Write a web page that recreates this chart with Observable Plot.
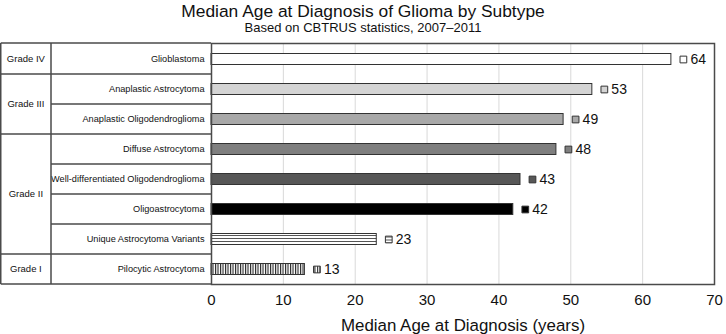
<!DOCTYPE html>
<html><head><meta charset="utf-8">
<script src="https://cdn.jsdelivr.net/npm/d3@7"></script>
<script src="https://cdn.jsdelivr.net/npm/@observablehq/plot@0.6"></script>
<style>
body{margin:0;background:#fff;font-family:"Liberation Sans",Arial,sans-serif;}
#wrap{position:relative;width:726px;height:334px;overflow:hidden;}
#title{position:absolute;top:1px;left:0;width:726px;text-align:center;font-size:17.4px;line-height:20px;color:#111}
#subtitle{position:absolute;top:20px;left:0;width:726px;text-align:center;font-size:13px;line-height:16px;color:#111}
#chart{position:absolute;top:40px;left:0}
</style></head><body>
<div id="wrap"><div id="title">Median Age at Diagnosis of Glioma by Subtype</div><div id="subtitle">Based on CBTRUS statistics, 2007–2011</div><div id="chart"></div></div>
<script>
const subtypes = ["Glioblastoma", "Anaplastic Astrocytoma", "Anaplastic Oligodendroglioma", "Diffuse Astrocytoma", "Well-differentiated Oligodendroglioma", "Oligoastrocytoma", "Unique Astrocytoma Variants", "Pilocytic Astrocytoma"];
const ages = [64, 53, 49, 48, 43, 42, 23, 13];
const grades = ["Grade IV", "Grade III", "Grade III", "Grade II", "Grade II", "Grade II", "Grade II", "Grade I"];
const fills = ["#ffffff", "#d4d4d4", "#a8a8a8", "#7f7f7f", "#575757", "#000000", "url(#hstripe)", "url(#vstripe)"];
const xTicks = [0, 10, 20, 30, 40, 50, 60, 70];
const gridTicks = [10, 20, 30, 40, 50, 60];
const xLabel = "Median Age at Diagnosis (years)";

(function () {
const data = subtypes.map((s, i) => ({subtype: s, age: ages[i], grade: grades[i], fill: fills[i]}));

const font = '"Liberation Sans", Arial, sans-serif';
const plot = Plot.plot({
  width: 726, height: 294,
  marginLeft: 211, marginRight: 12, marginTop: 3, marginBottom: 50,
  style: {fontFamily: font, fontSize: "10px", color: "#222", background: "white", overflow: "visible"},
  x: {domain: [0, 70]},
  y: {domain: subtypes, padding: 0},
  color: {type: "identity"},
  marks: [
    Plot.ruleX(gridTicks, {stroke: "#d9d9d9", strokeWidth: 1}),
    Plot.barX(data, {x: "age", y: "subtype", fill: "fill", stroke: "#333", strokeWidth: 1, insetTop: 9.5, insetBottom: 9.5}),
    Plot.dot(data, {x: "age", y: "subtype", symbol: "square", r: 3.8, fill: "fill", stroke: "#333", strokeWidth: 1, dx: 12}),
    Plot.text(data, {x: "age", y: "subtype", text: d => String(d.age), dx: 19, textAnchor: "start", fontSize: 14, fill: "#111"}),
    Plot.axisY({tickSize: 0, tickPadding: 7, fontSize: 9.2, label: null, fill: "#111"}),
    Plot.axisX({ticks: xTicks, tickSize: 0, tickPadding: 10, fontSize: 15, fill: "#111", label: null}),
    Plot.text([xLabel], {frameAnchor: "bottom", dy: 41, lineAnchor: "middle", fontSize: 16.9, fill: "#111"}),
    Plot.frame({stroke: "#4a4a4a", strokeWidth: 1.5})
  ]
});
document.getElementById("chart").appendChild(plot);

const svg = d3.select(plot);
const defs = svg.insert("defs", ":first-child");
const hp = defs.append("pattern").attr("id", "hstripe").attr("patternUnits", "userSpaceOnUse").attr("width", 8).attr("height", 3);
hp.append("rect").attr("width", 8).attr("height", 3).attr("fill", "#fff");
hp.append("rect").attr("y", 0).attr("width", 8).attr("height", 1).attr("fill", "#555");
const vp = defs.append("pattern").attr("id", "vstripe").attr("patternUnits", "userSpaceOnUse").attr("width", 2.5).attr("height", 10);
vp.append("rect").attr("width", 2.5).attr("height", 10).attr("fill", "#fff");
vp.append("rect").attr("x", 0).attr("width", 1.1).attr("height", 10).attr("fill", "#222");

// left table drawn from the y scale
const y = plot.scale("y");
const x = plot.scale("x");
const yTop = y.range[0], yBottom = y.range[1];
const xLeft = 0.75, xCol = 51, xRight = x.range[0];
const g = svg.append("g").attr("stroke", "#4a4a4a").attr("stroke-width", 1.5).attr("fill", "none");
g.append("line").attr("x1", xLeft).attr("x2", xLeft).attr("y1", yTop).attr("y2", yBottom);
g.append("line").attr("x1", xCol).attr("x2", xCol).attr("y1", yTop).attr("y2", yBottom);
g.append("line").attr("x1", xLeft).attr("x2", xRight).attr("y1", yTop).attr("y2", yTop);
g.append("line").attr("x1", xLeft).attr("x2", xRight).attr("y1", yBottom).attr("y2", yBottom);
subtypes.forEach((s, i) => {
  if (i === 0) return;
  const yy = y.apply(s);
  const newGroup = grades[i] !== grades[i - 1];
  g.append("line").attr("x1", newGroup ? xLeft : xCol).attr("x2", xRight).attr("y1", yy).attr("y2", yy);
});
// grade labels
const groups = [];
grades.forEach((gr, i) => {
  if (i === 0 || gr !== grades[i - 1]) groups.push({grade: gr, start: i, end: i});
  else groups[groups.length - 1].end = i;
});
const tg = svg.append("g").attr("font-family", font).attr("font-size", 9.5).attr("fill", "#111").attr("text-anchor", "middle");
groups.forEach(gr => {
  const y0 = y.apply(subtypes[gr.start]);
  const y1 = y.apply(subtypes[gr.end]) + y.bandwidth;
  tg.append("text").attr("x", (xLeft + xCol) / 2).attr("y", (y0 + y1) / 2).attr("dy", "0.32em").text(gr.grade);
});
})();
</script>
</body></html>
